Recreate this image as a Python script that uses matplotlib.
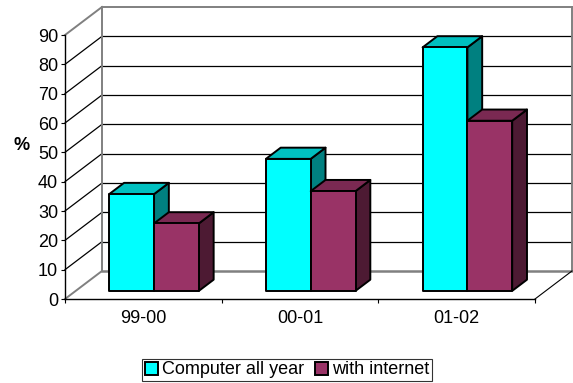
import matplotlib.pyplot as plt
from matplotlib.patches import Polygon, Patch

plt.rcParams['font.family'] = ['Liberation Sans', 'DejaVu Sans']

years = ['99-00', '00-01', '01-02']
computer = [33, 45, 83]
internet = [23, 34, 58]
series_names = ['Computer all year', 'with internet']

# front, top and side shades for each series
front_cols = ['#00FFFF', '#993366']
top_cols = ['#00C0C0', '#7A2952']
side_cols = ['#008080', '#4D1A33']

ymax = 90
DX, DY = 0.236, 9.55      # depth of the box in data units
d0, d1 = 0.29, 0.69       # where the bars sit inside the depth
bw = 0.286                # bar width per series
fs = 13

fig = plt.figure(figsize=(5.73, 3.83), dpi=100)
ax = fig.add_axes([65/573, (383-299)/383, 470/573, (299-35)/383])
ax.set_xlim(0, len(years))
ax.set_ylim(0, ymax)

wall = '#808080'
kw = dict(clip_on=False, zorder=1)

# back wall and left wall grid
for v in range(10, ymax, 10):
    ax.plot([0, DX], [v, v + DY], color='black', lw=0.9, **kw)
    ax.plot([DX, 3 + DX], [v + DY, v + DY], color='black', lw=0.9, **kw)
ax.plot([0, DX], [0, DY], color=wall, lw=1.4, **kw)
ax.plot([0, DX], [ymax, ymax + DY], color=wall, lw=1.4, **kw)
ax.plot([DX, 3 + DX], [DY, DY], color=wall, lw=1.8, **kw)
ax.plot([DX, 3 + DX], [ymax + DY, ymax + DY], color=wall, lw=1.4, **kw)
ax.plot([DX, DX], [DY, ymax + DY], color=wall, lw=1.4, **kw)
ax.plot([3 + DX, 3 + DX], [DY, ymax + DY], color=wall, lw=1.4, **kw)
ax.plot([3, 3 + DX], [0, DY], color='black', lw=0.8, **kw)


def box(x0, val, j):
    x1 = x0 + bw
    ox0, oy0 = d0 * DX, d0 * DY
    ox1, oy1 = d1 * DX, d1 * DY
    front = [(x0 + ox0, oy0), (x1 + ox0, oy0), (x1 + ox0, val + oy0), (x0 + ox0, val + oy0)]
    top = [(x0 + ox0, val + oy0), (x1 + ox0, val + oy0), (x1 + ox1, val + oy1), (x0 + ox1, val + oy1)]
    side = [(x1 + ox0, oy0), (x1 + ox1, oy1), (x1 + ox1, val + oy1), (x1 + ox0, val + oy0)]
    for pts, c in [(side, side_cols[j]), (top, top_cols[j]), (front, front_cols[j])]:
        ax.add_patch(Polygon(pts, closed=True, facecolor=c, edgecolor='black',
                             lw=1.4, joinstyle='round', clip_on=False, zorder=3))


for i in range(len(years)):
    for j, vals in enumerate([computer, internet]):
        box(i + 0.5 - bw + j * bw, vals[i], j)

for s in ['top', 'right']:
    ax.spines[s].set_visible(False)
for s in ['left', 'bottom']:
    ax.spines[s].set_linewidth(1.0)
    ax.spines[s].set_zorder(4)

ax.set_yticks(range(0, ymax + 1, 10))
ax.tick_params(axis='y', length=3, width=0.8, pad=2, labelsize=fs)
ax.set_xticks(range(len(years) + 1))
ax.set_xticklabels([])
ax.tick_params(axis='x', length=3, width=0.8)
ax.set_xticks([i + 0.5 for i in range(len(years))], minor=True)
ax.set_xticklabels(years, minor=True)
ax.tick_params(axis='x', which='minor', length=0, pad=8, labelsize=fs)

fig.text(22/573, 1 - 145/383, '%', fontsize=fs, fontweight='bold', ha='center', va='center')

handles = [Patch(facecolor=front_cols[j], edgecolor='black', lw=1.4) for j in range(2)]
leg = fig.legend(handles, series_names, loc='lower center', bbox_to_anchor=(287/573, 0.0),
                 ncol=2, fontsize=fs, frameon=True, fancybox=False, edgecolor='black',
                 handlelength=0.75, handleheight=0.75, handletextpad=0.2, columnspacing=0.6,
                 borderpad=0.15, borderaxespad=0.1)
leg.get_frame().set_linewidth(0.8)

fig.savefig('out.png', dpi=100)
